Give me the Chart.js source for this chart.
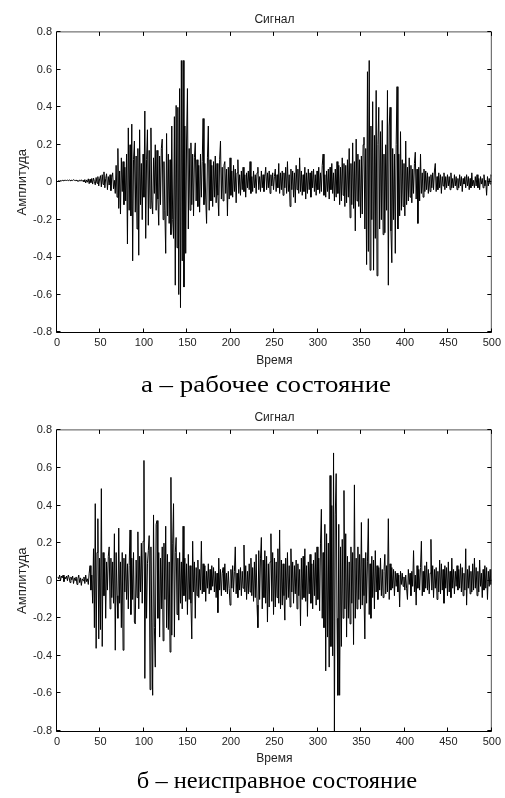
<!DOCTYPE html>
<html><head><meta charset="utf-8">
<script src="https://cdn.jsdelivr.net/npm/chart.js@4.4.1/dist/chart.umd.min.js"></script>
<style>
html,body{margin:0;padding:0;background:#fff;}
body{width:505px;height:798px;position:relative;overflow:hidden;}
canvas{position:absolute;left:0;}
#cA{top:0;width:505px;height:372px;}
#cB{top:398px;width:505px;height:373px;}
.cap{position:absolute;width:500px;text-align:center;font-family:"Liberation Serif","Times New Roman",serif;font-size:24px;line-height:24px;color:#000;white-space:nowrap;transform-origin:center;}
#capA{left:16px;top:372px;transform:scaleX(1.12);}
#capB{left:27px;top:768px;transform:scaleX(1.02);}
</style></head><body>
<canvas id="cA" width="505" height="372"></canvas>
<div class="cap" id="capA">а – рабочее состояние</div>
<canvas id="cB" width="505" height="373"></canvas>
<div class="cap" id="capB">б – неисправное состояние</div>
<script>
// ---- data ----
const xTickValues = [0, 50, 100, 150, 200, 250, 300, 350, 400, 450, 500];
const xTickLabels = ['0', '50', '100', '150', '200', '250', '300', '350', '400', '450', '500'];
const yTickValues = [-0.8, -0.6, -0.4, -0.2, 0, 0.2, 0.4, 0.6, 0.8];
const yTickLabels = ['-0.8', '-0.6', '-0.4', '-0.2', '0', '0.2', '0.4', '0.6', '0.8'];
const chartTitle = 'Сигнал';
const xAxisTitle = 'Время';
const yAxisTitle = 'Амплитуда';

// signal а – рабочее состояние (samples 1..500)
const signalWorking = [
0.005,0.008,0.006,0.009,0.007,0.010,0.008,0.011,0.009,0.010,
0.009,0.011,0.008,0.012,0.010,0.007,0.011,0.009,0.013,0.010,
0.008,0.012,0.006,0.010,0.004,0.011,0.007,0.013,0.005,0.010,
0.002,0.014,-0.004,0.012,0.000,0.018,-0.008,0.016,-0.002,0.020,
-0.010,0.022,0.004,-0.014,0.025,-0.006,0.030,-0.020,0.018,0.035,
-0.025,0.040,-0.012,0.055,-0.030,0.020,0.045,-0.040,0.030,-0.015,
0.040,-0.045,0.025,0.050,-0.035,0.010,-0.060,0.090,-0.080,0.180,
-0.140,0.060,-0.170,0.130,-0.050,0.110,-0.120,0.080,-0.100,0.150,
-0.330,0.290,-0.150,0.200,-0.180,0.310,-0.420,0.120,0.220,-0.160,
0.140,-0.250,0.180,-0.390,0.280,-0.120,0.100,-0.200,0.150,-0.080,
0.380,-0.300,0.120,0.280,-0.230,0.170,-0.140,0.290,-0.100,-0.170,
0.130,-0.060,0.200,-0.150,0.170,-0.090,-0.230,0.140,-0.120,0.180,
0.230,-0.200,0.110,-0.150,-0.380,0.260,-0.180,0.150,-0.220,0.120,
-0.280,0.300,-0.200,-0.300,0.350,-0.550,0.410,-0.350,0.400,-0.600,
0.500,-0.670,0.650,-0.420,0.650,-0.560,0.300,-0.380,0.220,0.500,
-0.250,0.180,-0.150,0.210,-0.120,0.150,-0.180,0.130,0.210,-0.100,
0.120,-0.130,0.090,-0.160,0.150,-0.080,0.110,0.340,-0.120,0.100,
-0.090,-0.220,0.130,0.300,-0.150,0.120,-0.100,0.090,-0.130,0.110,
-0.080,0.140,-0.110,0.100,-0.070,-0.180,0.120,0.220,-0.090,0.080,
-0.100,0.090,0.110,-0.060,0.070,-0.180,0.080,-0.090,0.130,-0.070,
0.060,-0.080,0.090,-0.050,0.070,-0.110,0.050,0.120,-0.060,0.040,
-0.070,0.060,-0.040,0.080,-0.050,0.040,-0.080,0.050,-0.030,0.060,
-0.040,0.110,-0.060,0.030,-0.050,0.060,-0.030,0.040,-0.060,0.050,
0.080,-0.040,0.030,-0.050,0.060,-0.030,0.040,-0.050,0.030,0.080,
-0.040,0.050,-0.030,0.060,-0.060,0.040,-0.020,0.050,-0.040,0.030,
0.070,-0.050,0.040,-0.030,0.100,-0.060,0.050,-0.040,0.060,-0.070,
0.050,-0.030,0.080,-0.060,0.110,-0.050,0.040,-0.130,0.070,-0.040,
0.060,-0.080,0.050,-0.110,0.090,-0.040,0.070,-0.060,0.130,-0.050,
0.060,-0.070,0.040,-0.050,0.080,-0.090,0.050,-0.060,0.070,-0.040,
0.050,-0.080,0.060,-0.030,0.070,-0.050,0.040,-0.070,0.060,-0.040,
0.080,-0.060,0.050,-0.050,0.090,0.150,-0.070,0.040,-0.080,0.060,
-0.050,0.070,-0.090,0.080,-0.040,0.100,-0.060,0.050,-0.100,0.070,
-0.080,0.110,-0.060,0.090,-0.120,0.080,-0.100,0.130,-0.070,0.100,
-0.130,0.090,-0.110,0.120,-0.080,0.180,-0.190,0.100,-0.120,0.210,
-0.140,0.110,-0.260,0.230,-0.100,0.150,-0.130,0.120,-0.190,0.140,
-0.170,0.200,0.240,-0.250,0.180,-0.440,0.590,-0.370,0.650,-0.470,
0.300,-0.200,0.430,-0.470,0.250,-0.300,0.490,-0.500,0.200,0.400,
-0.250,0.270,-0.200,0.330,-0.280,0.150,-0.270,0.200,-0.150,0.490,
-0.550,0.300,0.400,-0.260,-0.430,0.180,-0.200,0.150,-0.380,0.200,
0.510,-0.250,0.150,-0.180,0.270,-0.150,0.120,-0.130,0.100,-0.180,
0.220,-0.120,0.080,-0.100,0.130,-0.080,0.090,-0.110,0.070,-0.060,
0.100,0.160,-0.090,0.070,-0.220,0.080,-0.100,0.150,-0.060,0.050,
-0.080,0.070,-0.050,0.060,-0.040,0.050,-0.060,0.030,-0.050,0.040,
-0.030,0.050,-0.040,0.060,0.100,-0.050,0.030,-0.040,0.050,-0.030,
0.040,-0.060,0.030,-0.020,0.050,-0.040,0.030,-0.030,0.040,-0.020,
0.030,-0.040,0.050,-0.030,0.020,-0.030,0.040,-0.020,0.030,-0.040,
0.020,-0.030,0.040,-0.020,0.030,-0.050,0.020,-0.010,0.030,-0.030,
0.040,-0.020,0.030,-0.040,0.020,-0.030,0.050,-0.020,0.010,-0.030,
0.030,-0.020,0.040,-0.030,0.020,-0.040,0.030,-0.010,0.020,-0.030,
0.040,-0.020,0.010,-0.070,0.030,-0.020,0.020,-0.010,0.040,0.030
];

// signal б – неисправное состояние (samples 1..500)
const signalFaulty = [
0.020,0.010,0.030,0.000,0.025,0.015,0.030,-0.005,0.020,0.010,
0.025,0.000,0.030,0.015,-0.010,0.020,0.005,0.025,-0.015,0.015,
0.000,0.020,-0.020,0.010,0.030,-0.010,0.015,-0.025,0.010,0.000,
0.020,-0.015,0.030,-0.005,0.010,-0.020,0.040,0.080,-0.050,0.030,
-0.120,0.170,-0.250,0.410,-0.360,0.150,0.330,-0.310,0.120,-0.260,
0.490,-0.350,0.150,-0.080,0.120,-0.200,0.100,-0.050,0.130,0.180,
-0.150,0.120,-0.090,0.100,-0.120,0.250,-0.370,0.150,-0.080,-0.200,
0.280,-0.120,0.100,-0.250,0.150,-0.370,0.120,-0.060,0.140,-0.100,
0.090,-0.150,0.080,0.270,-0.180,0.120,-0.100,0.150,-0.220,-0.230,
0.110,-0.090,0.260,-0.150,0.130,-0.060,0.200,-0.120,0.210,0.640,
-0.520,0.150,-0.200,0.090,0.160,0.240,-0.580,0.180,-0.220,-0.610,
0.350,-0.250,-0.460,0.300,0.320,-0.200,0.150,-0.300,0.120,-0.150,
0.180,-0.320,0.200,-0.100,0.290,-0.250,0.140,-0.260,0.100,-0.380,
0.550,-0.290,0.200,0.410,-0.300,0.150,0.230,-0.180,0.120,-0.210,
0.150,-0.120,0.100,-0.150,0.290,-0.080,0.120,-0.110,0.090,-0.180,
0.140,-0.100,0.080,-0.120,-0.310,0.210,-0.060,0.100,-0.200,0.070,
-0.080,0.110,-0.090,0.060,-0.050,0.210,-0.070,0.090,-0.060,0.080,
-0.110,0.050,-0.040,0.090,-0.070,0.060,-0.050,0.080,-0.030,0.070,
-0.060,0.050,-0.090,0.040,-0.170,0.120,-0.050,0.060,-0.080,0.040,
0.070,-0.050,0.090,-0.060,0.040,-0.070,0.050,-0.040,-0.130,0.060,
-0.040,0.080,-0.060,0.050,0.180,-0.070,0.040,-0.090,0.060,-0.050,
0.070,-0.080,0.050,-0.040,0.190,-0.060,0.080,-0.100,0.050,-0.070,
0.090,-0.060,0.120,-0.080,0.070,-0.110,0.100,-0.090,0.140,-0.130,
-0.250,0.160,-0.100,0.120,0.230,-0.150,0.110,-0.090,0.160,-0.120,
0.130,-0.220,0.090,-0.140,0.100,0.250,-0.110,0.150,-0.180,0.120,
-0.140,0.100,-0.090,0.170,-0.120,0.270,-0.150,0.110,-0.130,0.090,
-0.080,-0.210,0.120,-0.100,0.150,-0.090,0.080,-0.140,0.170,-0.060,
0.100,-0.120,0.080,-0.070,0.110,-0.150,0.090,-0.080,0.060,-0.240,
0.120,-0.100,0.130,-0.090,0.170,-0.110,0.080,-0.190,0.100,-0.070,
0.140,-0.120,0.090,-0.150,0.110,-0.080,0.150,-0.130,0.180,-0.100,
0.120,-0.160,0.200,0.380,-0.200,0.150,-0.250,0.300,-0.480,0.250,
-0.300,0.200,-0.460,0.560,-0.350,0.400,-0.400,0.680,-0.800,0.350,
0.570,-0.200,-0.610,0.300,-0.610,0.180,-0.350,0.220,-0.200,0.480,
-0.150,0.250,-0.300,0.130,-0.200,0.100,-0.230,0.180,-0.120,0.150,
-0.340,0.510,-0.200,0.120,-0.150,0.180,-0.100,0.140,-0.150,0.310,
-0.130,0.120,-0.080,-0.310,0.150,-0.120,0.100,0.330,-0.180,0.090,
-0.200,0.130,-0.090,0.110,-0.150,0.160,-0.060,0.080,-0.100,0.070,
-0.050,0.120,-0.080,0.060,-0.090,0.050,0.140,-0.070,0.080,-0.060,
0.330,-0.100,0.090,-0.050,0.070,-0.040,0.060,-0.080,0.050,-0.030,
0.040,-0.060,0.030,-0.140,0.050,-0.020,0.040,-0.030,0.020,-0.050,
0.030,-0.040,-0.100,0.060,-0.020,0.040,-0.080,0.050,-0.030,0.160,
-0.060,0.030,-0.130,0.080,-0.040,0.060,-0.050,0.070,0.210,-0.080,
0.050,-0.060,0.080,-0.040,0.100,-0.050,0.060,-0.070,0.040,0.220,
-0.050,0.080,-0.090,0.060,-0.040,0.070,-0.100,0.050,-0.060,0.110,
-0.070,0.090,-0.050,0.060,-0.120,0.080,-0.040,0.070,-0.080,0.100,
-0.060,0.050,-0.090,0.120,-0.040,0.060,-0.070,0.050,-0.030,0.080,
-0.050,0.060,-0.040,0.090,-0.060,0.070,-0.080,0.040,-0.050,0.170,
-0.130,0.060,-0.040,0.080,-0.070,0.050,-0.060,0.090,-0.050,0.120,
-0.040,0.070,-0.080,0.050,-0.060,0.110,-0.030,0.040,-0.090,0.060,
-0.050,0.080,-0.040,0.070,-0.100,0.050,-0.030,0.060,-0.020,0.010
];

// ---- rendering ----
const FONT = "'Liberation Sans', Arial, sans-serif";
const TEXT = '#222';

const boxPlugin = {
  id: 'matlabBox',
  afterDraw(chart) {
    const {ctx, chartArea: a, scales: {x, y}} = chart;
    const L = a.left - 0.5, R = a.right - 0.5, T = a.top - 0.5, B = a.bottom + 0.5;
    ctx.save();
    ctx.lineWidth = 1;
    ctx.strokeStyle = '#555';
    ctx.beginPath(); ctx.moveTo(L, T); ctx.lineTo(R, T); ctx.lineTo(R, B); ctx.stroke();
    ctx.strokeStyle = '#000';
    ctx.beginPath(); ctx.moveTo(L, T); ctx.lineTo(L, B); ctx.lineTo(R, B); ctx.stroke();
    ctx.beginPath();
    x.ticks.forEach(t => {
      const px = Math.round(x.getPixelForValue(t.value)) - 0.5;
      ctx.moveTo(px, B); ctx.lineTo(px, B - 4);
      ctx.moveTo(px, T); ctx.lineTo(px, T + 4);
    });
    y.ticks.forEach(t => {
      const py = Math.round(y.getPixelForValue(t.value)) - 0.5;
      ctx.moveTo(L, py); ctx.lineTo(L + 4, py);
      ctx.moveTo(R, py); ctx.lineTo(R - 4, py);
    });
    ctx.stroke();
    ctx.restore();
  }
};

function makeChart(id, values, xAxisHeight, xTitlePadBottom) {
  const points = values.map((v, i) => ({x: i + 1, y: v}));
  return new Chart(document.getElementById(id), {
    type: 'line',
    data: { datasets: [{ data: points, borderColor: '#000', borderWidth: 1, pointRadius: 0, tension: 0, fill: false }] },
    options: {
      responsive: false, animation: false, devicePixelRatio: 1, events: [],
      layout: { padding: { left: 0, right: 9, top: 0, bottom: 0 } },
      plugins: {
        legend: { display: false }, tooltip: { enabled: false },
        title: { display: true, text: chartTitle, fullSize: false, color: TEXT,
                 font: { family: FONT, size: 12, weight: 'normal', lineHeight: 1.2 },
                 padding: { top: 12, bottom: 6 } }
      },
      scales: {
        x: {
          type: 'linear', min: 0, max: 500,
          grid: { display: false, drawTicks: false, tickLength: 0 }, border: { display: false },
          afterBuildTicks: s => { s.ticks = xTickValues.map(v => ({ value: v })); },
          afterFit: s => { s.height = xAxisHeight; },
          ticks: { autoSkip: false, maxRotation: 0, padding: 4, color: TEXT,
                   font: { family: FONT, size: 11 }, callback: (v, i) => xTickLabels[i] },
          title: { display: true, text: xAxisTitle, color: TEXT,
                   font: { family: FONT, size: 12, lineHeight: 1.2 }, padding: { top: 0, bottom: xTitlePadBottom } }
        },
        y: {
          type: 'linear', min: -0.8, max: 0.8,
          grid: { display: false, drawTicks: false, tickLength: 0 }, border: { display: false },
          afterBuildTicks: s => { s.ticks = yTickValues.map(v => ({ value: v })); },
          afterFit: s => { s.width = 57; },
          ticks: { autoSkip: false, padding: 5, color: TEXT,
                   font: { family: FONT, size: 11 }, callback: (v, i) => yTickLabels[i] },
          title: { display: true, text: yAxisTitle, color: TEXT,
                   font: { family: FONT, size: 13, lineHeight: 1.2 }, padding: { top: 15, bottom: 0 } }
        }
      }
    },
    plugins: [boxPlugin]
  });
}

makeChart('cA', signalWorking, 40, 4);
makeChart('cB', signalFaulty, 40, 5);
</script>
</body></html>
